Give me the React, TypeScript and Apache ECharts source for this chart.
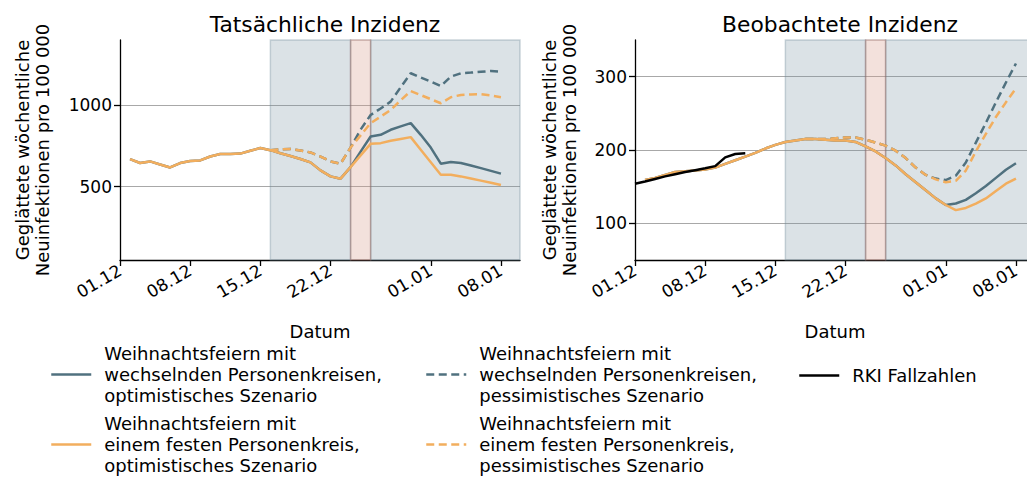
import React, { useEffect, useRef } from "react";
import * as echarts from "echarts";

// ---------- data ----------
const DAY_TICKS = [0, 7, 14, 21, 31, 38];
const DAY_TICK_LABELS = ["01.12", "08.12", "15.12", "22.12", "01.01", "08.01"];
const X_MAX = 39.9;
const LEFT_Y_TICKS = [500, 1000];
const RIGHT_Y_TICKS = [100, 200, 300];

const NAME_OPT_BLUE = "Weihnachtsfeiern mit\nwechselnden Personenkreisen,\noptimistisches Szenario";
const NAME_PESS_BLUE = "Weihnachtsfeiern mit\nwechselnden Personenkreisen,\npessimistisches Szenario";
const NAME_OPT_ORANGE = "Weihnachtsfeiern mit\neinem festen Personenkreis,\noptimistisches Szenario";
const NAME_PESS_ORANGE = "Weihnachtsfeiern mit\neinem festen Personenkreis,\npessimistisches Szenario";
const NAME_RKI = "RKI Fallzahlen";

// shaded periods (day index from 01.12)
const SHADE_START = 15;
const HOLIDAY_START = 23;
const HOLIDAY_END = 25;

// Left: actual incidence (days 1..38 / 15..38)
const leftOptBlueStart = 1;
const leftOptBlue = [669, 645, 655, 636, 618, 645, 657, 661, 685, 700, 701, 703, 720, 737, 724,
  705, 688, 670, 649, 600, 563, 549, 620, 715, 808, 818, 849, 870, 890, 818, 740, 641, 651, 645, 630, 614, 597, 580];
const leftOptOrangeStart = 1;
const leftOptOrange = [669, 645, 655, 636, 618, 645, 657, 661, 685, 700, 701, 703, 720, 737, 724,
  705, 688, 670, 649, 600, 563, 549, 620, 692, 763, 767, 782, 793, 804, 727, 650, 573, 573, 563, 550, 537, 524, 510];
const leftPessBlueStart = 15;
const leftPessBlue = [724, 730, 731, 722, 710, 685, 655, 641, 740, 850, 940, 980, 1022, 1110, 1196, 1170, 1145, 1118, 1175, 1196, 1200, 1205, 1210, 1206];
const leftPessOrangeStart = 15;
const leftPessOrange = [724, 730, 731, 722, 710, 685, 655, 641, 740, 815, 890, 930, 971, 1030, 1087, 1062, 1037, 1012, 1049, 1063, 1066, 1067, 1060, 1049];

// Right: observed incidence
const rightOptBlueStart = 1;
const rightOptBlue = [159, 162, 166, 170, 171, 172, 173.5, 176, 181, 186, 191, 196, 202, 207, 211, 213, 215,
  215, 214, 213, 213, 211, 205, 198, 189, 179, 167, 156, 145, 134, 125, 127, 132, 141, 151, 162, 173, 182];
const rightOptOrangeStart = 1;
const rightOptOrange = [159, 162, 166, 170, 171, 172, 173.5, 176, 181, 186, 191, 196, 202, 207, 211, 213, 215,
  215, 214, 213, 213, 211, 205, 198, 189, 179, 167, 156, 145, 134, 125, 118, 121, 127, 134, 144, 154, 161];
const rightPessBlueStart = 17;
const rightPessBlue = [215, 215, 215, 216, 217, 217, 214, 210, 206, 199, 189, 176, 166, 161, 159, 165, 183, 210, 237, 265, 292, 318];
const rightPessOrangeStart = 17;
const rightPessOrange = [215, 215, 215, 216, 217, 217, 214, 210, 206, 199, 189, 176, 166, 160, 156, 158, 172, 198, 222, 245, 265, 284];
const rkiStart = 0;
const rki = [154, 157, 160.5, 164, 167, 170, 172.5, 175, 178, 190, 194.5, 195.5];

// ---------- style ----------
const BLUE = "#50717f";
const ORANGE = "#f2ae5e";
const FONT = "DejaVu Sans";
const DASH = [8, 4.5];
const LW = 2.5;
const BASE_FS = 18;

const pairs = (start: number, arr: number[]) => arr.map((v, i) => [start + i, v]);

function lineSeries(name: string, color: string, dashed: boolean, data: number[][], idx: number, z: number) {
  return {
    type: "line",
    name,
    data,
    xAxisIndex: idx,
    yAxisIndex: idx,
    symbol: "none",
    smooth: false,
    z,
    lineStyle: { color, width: LW, type: dashed ? DASH : "solid" },
    itemStyle: { color },
  };
}

function shadeSeries(idx: number) {
  const blue = { color: "rgba(111,139,155,0.25)", borderColor: "rgba(111,139,155,0.35)", borderWidth: 1.5 };
  const red = { color: "rgba(215,155,138,0.3)", borderColor: "rgba(140,95,90,0.45)", borderWidth: 1.5 };
  return {
    type: "line",
    name: "shade" + idx,
    data: [],
    xAxisIndex: idx,
    yAxisIndex: idx,
    z: 1,
    silent: true,
    markArea: {
      silent: true,
      label: { show: false },
      data: [
        [{ xAxis: SHADE_START, itemStyle: blue }, { xAxis: HOLIDAY_START }],
        [{ xAxis: HOLIDAY_END, itemStyle: blue }, { xAxis: X_MAX }],
        [{ xAxis: HOLIDAY_START, itemStyle: red }, { xAxis: HOLIDAY_END }],
      ],
    },
  };
}

function xAxis(idx: number) {
  return {
    type: "value",
    gridIndex: idx,
    min: 0,
    max: X_MAX,
    name: "Datum",
    nameLocation: "middle",
    nameGap: 62,
    nameTextStyle: { fontSize: BASE_FS, color: "#000", fontFamily: FONT },
    axisLine: { show: true, lineStyle: { color: "#000", width: 1.3 } },
    axisTick: { show: true, customValues: DAY_TICKS, length: 6, lineStyle: { color: "#000", width: 1.3 } },
    axisLabel: {
      customValues: DAY_TICKS,
      rotate: 30,
      margin: 9,
      fontSize: 17,
      color: "#000",
      fontFamily: FONT,
      formatter: (v: number) => {
        const k = DAY_TICKS.indexOf(Math.round(v));
        return k >= 0 ? DAY_TICK_LABELS[k] : "";
      },
    },
    splitLine: { show: false },
  };
}

function yAxis(idx: number, min: number, max: number, ticks: number[], gap: number) {
  return {
    type: "value",
    gridIndex: idx,
    min,
    max,
    name: "Geglättete wöchentliche\nNeuinfektionen pro 100 000",
    nameLocation: "middle",
    nameGap: gap,
    nameTextStyle: { fontSize: BASE_FS, lineHeight: 20, color: "#000", fontFamily: FONT },
    axisLine: { show: true, lineStyle: { color: "#000", width: 1.3 } },
    axisTick: { show: true, customValues: ticks, length: 6, lineStyle: { color: "#000", width: 1.3 } },
    axisLabel: {
      customValues: ticks,
      fontSize: 17,
      color: "#000",
      fontFamily: FONT,
      margin: 8,
      formatter: (v: number) => String(Math.round(v)),
    },
    splitLine: { show: true, lineStyle: { color: "#a8a8a8", width: 1.2 } },
  };
}

const legendCommon = {
  type: "plain",
  orient: "vertical",
  itemWidth: 40,
  itemHeight: 14,
  itemGap: 7,
  padding: 0,
  height: 200,
  selectedMode: false,
  itemStyle: { opacity: 0 },
  lineStyle: { width: LW },
  textStyle: { fontSize: BASE_FS, lineHeight: 21, color: "#000", fontFamily: FONT, padding: [0, 0, 0, 8] },
};

export default function App() {
  const ref = useRef<HTMLDivElement>(null);
  useEffect(() => {
    if (!ref.current) return;
    const chart = echarts.init(ref.current, undefined, { renderer: "svg" });
    const titleStyle = { fontSize: 21.8, fontWeight: "normal", color: "#000", fontFamily: FONT };
    const option = {
      animation: false,
      textStyle: { fontFamily: FONT },
      title: [
        { text: "Tatsächliche Inzidenz", left: 320, top: 8, textAlign: "center", textStyle: titleStyle },
        { text: "Beobachtete Inzidenz", left: 835, top: 8, textAlign: "center", textStyle: titleStyle },
      ],
      grid: [
        { left: 120, top: 40, width: 400, height: 220, containLabel: false },
        { left: 635, top: 40, width: 400, height: 220, containLabel: false },
      ],
      xAxis: [xAxis(0), xAxis(1)],
      yAxis: [yAxis(0, 50, 1400, LEFT_Y_TICKS, 68), yAxis(1, 50, 350, RIGHT_Y_TICKS, 56)],
      legend: [
        { ...legendCommon, left: 50, top: 343, data: [NAME_OPT_BLUE, NAME_OPT_ORANGE] },
        { ...legendCommon, left: 425, top: 343, data: [NAME_PESS_BLUE, NAME_PESS_ORANGE] },
        { ...legendCommon, left: 798, top: 365, data: [NAME_RKI] },
      ],
      series: [
        shadeSeries(0),
        shadeSeries(1),
        lineSeries(NAME_OPT_BLUE, BLUE, false, pairs(leftOptBlueStart, leftOptBlue), 0, 3),
        lineSeries(NAME_PESS_BLUE, BLUE, true, pairs(leftPessBlueStart, leftPessBlue), 0, 3),
        lineSeries(NAME_OPT_ORANGE, ORANGE, false, pairs(leftOptOrangeStart, leftOptOrange), 0, 4),
        lineSeries(NAME_PESS_ORANGE, ORANGE, true, pairs(leftPessOrangeStart, leftPessOrange), 0, 4),
        lineSeries(NAME_OPT_BLUE, BLUE, false, pairs(rightOptBlueStart, rightOptBlue), 1, 3),
        lineSeries(NAME_PESS_BLUE, BLUE, true, pairs(rightPessBlueStart, rightPessBlue), 1, 3),
        lineSeries(NAME_OPT_ORANGE, ORANGE, false, pairs(rightOptOrangeStart, rightOptOrange), 1, 4),
        lineSeries(NAME_PESS_ORANGE, ORANGE, true, pairs(rightPessOrangeStart, rightPessOrange), 1, 4),
        lineSeries(NAME_RKI, "#000", false, pairs(rkiStart, rki), 1, 5),
      ],
    };
    chart.setOption(option as any);
    return () => chart.dispose();
  }, []);
  return (
    <div style={{ position: "absolute", left: 0, top: 0, width: 1027, height: 477, overflow: "hidden", background: "#fff" }}>
      <div ref={ref} style={{ width: 1040, height: 477 }} />
    </div>
  );
}
